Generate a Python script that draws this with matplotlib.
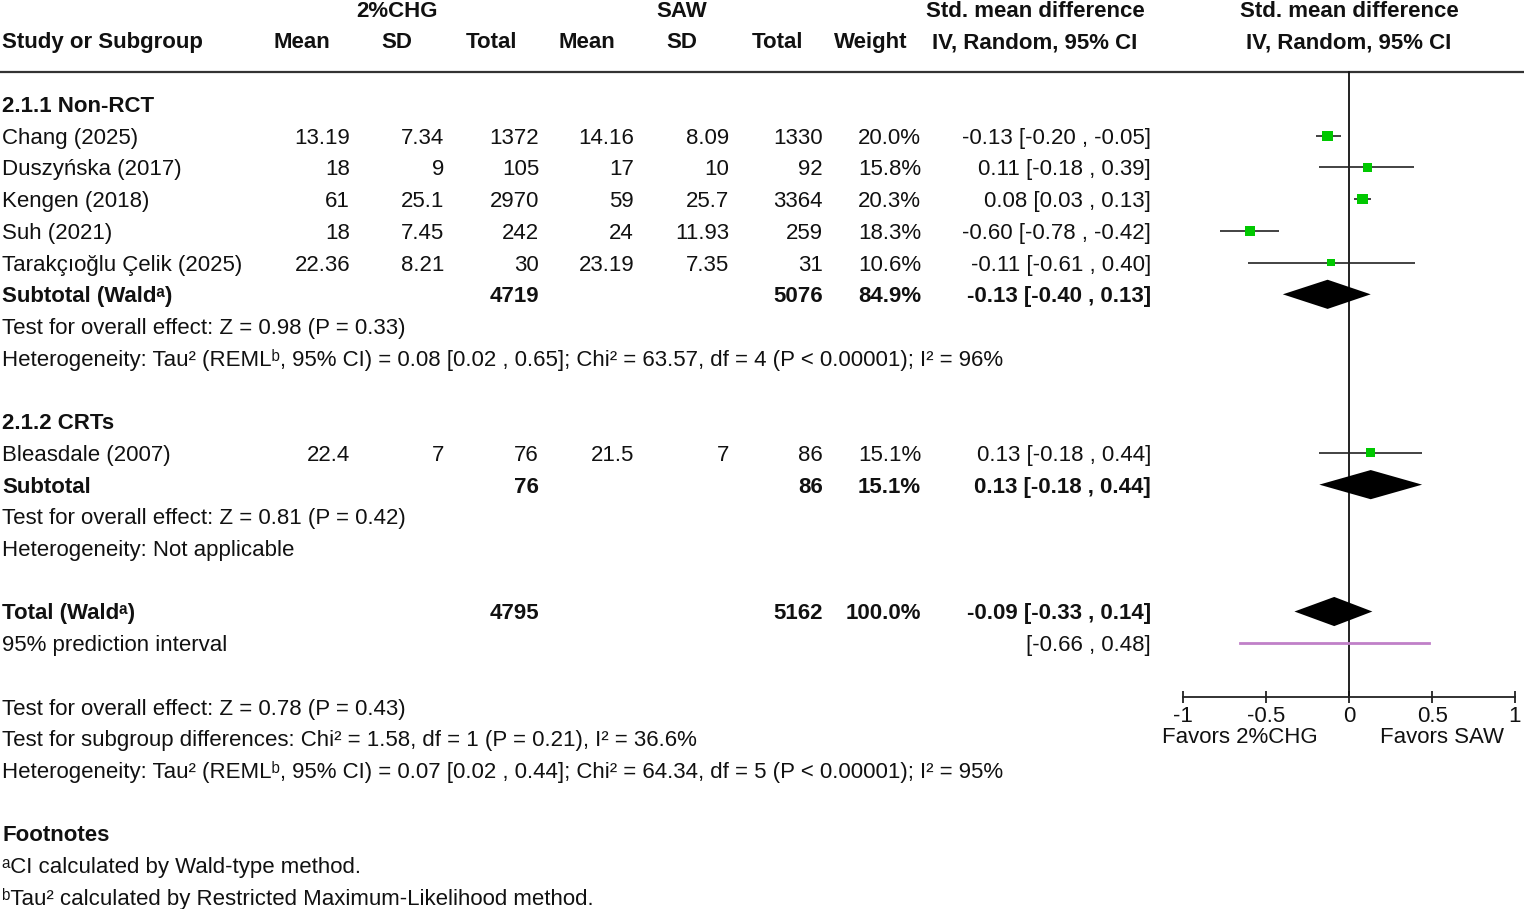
import numpy as np
import matplotlib
matplotlib.use("Agg")
import matplotlib.pyplot as plt

plt.rcParams['font.family'] = ['Liberation Sans', 'DejaVu Sans']

# ---------------- data ----------------
studies = ['Chang (2025)', 'Duszyńska (2017)', 'Kengen (2018)', 'Suh (2021)',
           'Tarakçıoğlu Çelik (2025)', 'Bleasdale (2007)']
study_rows = [1, 2, 3, 4, 5, 11]
chg_mean = [13.19, 18, 61, 18, 22.36, 22.4]
chg_sd = [7.34, 9, 25.1, 7.45, 8.21, 7]
chg_n = [1372, 105, 2970, 242, 30, 76]
saw_mean = [14.16, 17, 59, 24, 23.19, 21.5]
saw_sd = [8.09, 10, 25.7, 11.93, 7.35, 7]
saw_n = [1330, 92, 3364, 259, 31, 86]
weight = [20.0, 15.8, 20.3, 18.3, 10.6, 15.1]
smd = [-0.13, 0.11, 0.08, -0.60, -0.11, 0.13]
ci_lo = [-0.20, -0.18, 0.03, -0.78, -0.61, -0.18]
ci_hi = [-0.05, 0.39, 0.13, -0.42, 0.40, 0.44]

pooled_labels = ['Subtotal (Waldᵃ)', 'Subtotal', 'Total (Waldᵃ)']
pooled_rows = [6, 12, 16]
pooled_chg_n = [4719, 76, 4795]
pooled_saw_n = [5076, 86, 5162]
pooled_weight = [84.9, 15.1, 100.0]
pooled_smd = [-0.13, 0.13, -0.09]
pooled_lo = [-0.40, -0.18, -0.33]
pooled_hi = [0.13, 0.44, 0.14]

pi_lo, pi_hi = -0.66, 0.48
pi_row = 17

x_ticks = [-1, -0.5, 0, 0.5, 1]
x_tick_labels = ['-1', '-0.5', '0', '0.5', '1']

notes = [
    (0, '2.1.1 Non-RCT', True),
    (7, 'Test for overall effect: Z = 0.98 (P = 0.33)', False),
    (8, 'Heterogeneity: Tau² (REMLᵇ, 95% CI) = 0.08 [0.02 , 0.65]; Chi² = 63.57, df = 4 (P < 0.00001); I² = 96%', False),
    (10, '2.1.2 CRTs', True),
    (13, 'Test for overall effect: Z = 0.81 (P = 0.42)', False),
    (14, 'Heterogeneity: Not applicable', False),
    (17, '95% prediction interval', False),
    (19, 'Test for overall effect: Z = 0.78 (P = 0.43)', False),
    (20, 'Test for subgroup differences: Chi² = 1.58, df = 1 (P = 0.21), I² = 36.6%', False),
    (21, 'Heterogeneity: Tau² (REMLᵇ, 95% CI) = 0.07 [0.02 , 0.44]; Chi² = 64.34, df = 5 (P < 0.00001); I² = 95%', False),
    (23, 'Footnotes', True),
    (24, 'ᵃCI calculated by Wald-type method.', False),
    (25, 'ᵇTau² calculated by Restricted Maximum-Likelihood method.', False),
]

# ---------------- layout ----------------
W, H = 1524, 909
ROW0, ROWH = 104.0, 31.72
ytop = -ROW0 / ROWH
ybot = (H - ROW0) / ROWH
FS = 16
BASE = 0.25  # baseline offset (rows)

fig = plt.figure(figsize=(W / 100, H / 100), dpi=100)
ax = fig.add_axes([0, 0, 1, 1])
ax.set_xlim(0, W)
ax.set_ylim(ybot, ytop)
ax.axis('off')

def t(x, r, s, ha='left', bold=False):
    ax.text(x, r + BASE, s, ha=ha, va='baseline', fontsize=FS,
            fontweight='bold' if bold else 'normal', color='#111111')

# headers
t(397, -3, '2%CHG', 'center', True)
t(682, -3, 'SAW', 'center', True)
t(1035, -3, 'Std. mean difference', 'center', True)
t(1349, -3, 'Std. mean difference', 'center', True)
t(2, -2, 'Study or Subgroup', 'left', True)
for xc, lab in zip([302, 397, 492, 587, 682, 777, 871],
                   ['Mean', 'SD', 'Total', 'Mean', 'SD', 'Total', 'Weight']):
    t(xc, -2, lab, 'center', True)
t(1035, -2, 'IV, Random, 95% CI', 'center', True)
t(1349, -2, 'IV, Random, 95% CI', 'center', True)
ax.axhline(-1, color='#333333', lw=1.6)

col_r = [350, 444, 539, 634, 729, 823, 921, 1151]

# study rows
for i, r in enumerate(study_rows):
    t(2, r, studies[i])
    t(col_r[0], r, f'{chg_mean[i]:g}', 'right')
    t(col_r[1], r, f'{chg_sd[i]:g}', 'right')
    t(col_r[2], r, f'{chg_n[i]}', 'right')
    t(col_r[3], r, f'{saw_mean[i]:g}', 'right')
    t(col_r[4], r, f'{saw_sd[i]:g}', 'right')
    t(col_r[5], r, f'{saw_n[i]}', 'right')
    t(col_r[6], r, f'{weight[i]:.1f}%', 'right')
    t(col_r[7], r, f'{smd[i]:.2f} [{ci_lo[i]:.2f} , {ci_hi[i]:.2f}]', 'right')

# pooled rows
for i, r in enumerate(pooled_rows):
    t(2, r, pooled_labels[i], bold=True)
    t(col_r[2], r, f'{pooled_chg_n[i]}', 'right', True)
    t(col_r[5], r, f'{pooled_saw_n[i]}', 'right', True)
    t(col_r[6], r, f'{pooled_weight[i]:.1f}%', 'right', True)
    t(col_r[7], r, f'{pooled_smd[i]:.2f} [{pooled_lo[i]:.2f} , {pooled_hi[i]:.2f}]', 'right', True)

t(col_r[7], pi_row, f'[{pi_lo:.2f} , {pi_hi:.2f}]', 'right')

for r, s, b in notes:
    t(2, r, s, bold=b)

# ---------------- forest panel ----------------
x_m1, x_p1 = 1183.3, 1515.0
fax = fig.add_axes([x_m1 / W, 0, (x_p1 - x_m1) / W, 1])
fax.set_xlim(-1, 1)
fax.set_ylim(ybot, ytop)
fax.patch.set_alpha(0)
for sp in ['left', 'right', 'top']:
    fax.spines[sp].set_visible(False)
AXIS_ROW = 18.7
fax.spines['bottom'].set_position(('data', AXIS_ROW))
fax.spines['bottom'].set_linewidth(1.3)
fax.spines['bottom'].set_color('#222222')
fax.set_yticks([])
fax.set_xticks(x_ticks)
fax.set_xticklabels(x_tick_labels)
fax.tick_params(axis='x', direction='inout', length=9, width=1.3, color='#222222',
                labelsize=FS, pad=2, labelcolor='#111111')

# zero line
fax.plot([0, 0], [-1, AXIS_ROW], color='#111111', lw=1.3, zorder=2)

# study CIs and squares
fax.hlines(study_rows, ci_lo, ci_hi, color='#222222', lw=1.2, zorder=3)
sizes = [(2.3 * np.sqrt(w) * 0.72) ** 2 for w in weight]
fax.scatter(smd, study_rows, s=sizes, marker='s', color='#00C800',
            edgecolors='none', zorder=4)

# diamonds
HALF = 0.46
for est, lo, hi, r in zip(pooled_smd, pooled_lo, pooled_hi, pooled_rows):
    fax.fill([lo, est, hi, est], [r, r - HALF, r, r + HALF], color='black',
             lw=0, zorder=4)

# prediction interval
fax.plot([pi_lo, pi_hi], [pi_row, pi_row], color='#C080C8', lw=2.0, zorder=3)

# favours labels
fax.text(-0.657, 19.9 + BASE, 'Favors 2%CHG', ha='center', va='baseline',
         fontsize=FS, color='#111111')
fax.text(0.56, 19.9 + BASE, 'Favors SAW', ha='center', va='baseline',
         fontsize=FS, color='#111111')

fig.savefig('out.png', dpi=100)
